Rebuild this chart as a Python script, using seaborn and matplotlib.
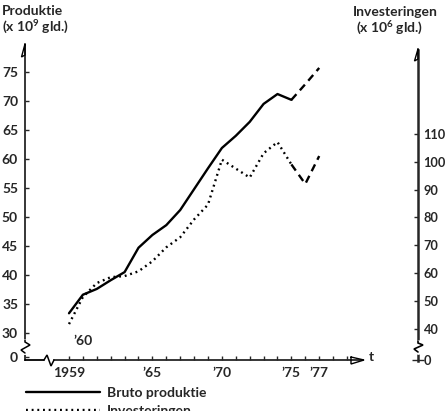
import numpy as np
import pandas as pd
import matplotlib
matplotlib.use("Agg")
import matplotlib.pyplot as plt
from matplotlib.lines import Line2D
import seaborn as sns

# ---- data ----
years = [1959, 1960, 1961, 1962, 1963, 1964, 1965, 1966, 1967, 1968,
         1969, 1970, 1971, 1972, 1973, 1974, 1975, 1976, 1977]
produktie = [33.4, 36.6, 37.6, 39.1, 40.5, 44.7, 46.9, 48.6, 51.2, 54.8,
             58.4, 61.9, 64.0, 66.4, 69.5, 71.2, 70.2, 72.9, 75.7]
investeringen = [41.8, 51.5, 56.5, 58.6, 59.0, 60.7, 64.3, 69.3, 72.9, 79.3,
                 84.6, 100.7, 97.5, 94.3, 103.0, 107.0, 99.0, 92.0, 102.0]
last_actual = 1975  # after this year the lines are dashed (estimates)

left_ticks = [30, 35, 40, 45, 50, 55, 60, 65, 70, 75]
right_ticks = [40, 50, 60, 70, 80, 90, 100, 110]
x_label_years = [1959, 1965, 1970, 1975, 1977]
x_labels = ["1959", "’65", "’70", "’75", "’77"]
left_title = ["Produktie", "(x 10$^9$ gld.)"]
right_title = ["Investeringen", "(x 10$^6$ gld.)"]
legend_labels = ["Bruto produktie", "Investeringen"]

df = pd.DataFrame({"jaar": years, "produktie": produktie,
                   "investeringen": investeringen})
act = df[df.jaar <= last_actual]
est = df[df.jaar >= last_actual]

# ---- figure ----
sns.set_style("white")
FONT = ["Lato", "DejaVu Sans"]
plt.rcParams["font.family"] = FONT
plt.rcParams["mathtext.fontset"] = "custom"
plt.rcParams["mathtext.rm"] = "Lato:bold"
plt.rcParams["mathtext.it"] = "Lato:bold"
plt.rcParams["mathtext.bf"] = "Lato:bold"
FS = 10
FW = "bold"

W, H = 445, 411
fig = plt.figure(figsize=(W / 100, H / 100), dpi=100)
fig.patch.set_facecolor("white")

def fx(x):
    return x / W

def fy(y):
    return 1 - y / H

L, R, T, B = 25, 418, 45, 360
ax = fig.add_axes([fx(L), fy(B), fx(R) - fx(L), fy(T) - fy(B)])
ax2 = ax.twinx()

# pixel -> data calibration
def yr_at(px):
    return 1959 + (px - 69) / 13.9

ax.set_xlim(yr_at(L), yr_at(R))
ax.set_ylim(30 - (B - 333) / 5.8, 30 + (333 - T) / 5.8)
ax2.set_ylim(40 - (B - 330) / 2.8, 40 + (330 - T) / 2.8)

# lines
sns.lineplot(data=act, x="jaar", y="produktie", ax=ax, color="black",
             lw=1.7, linestyle="-")
sns.lineplot(data=est, x="jaar", y="produktie", ax=ax, color="black",
             lw=1.7, linestyle=(0, (3.2, 2.2)))
sns.lineplot(data=act, x="jaar", y="investeringen", ax=ax2, color="black",
             lw=1.7, linestyle=(0, (0.8, 1.6)))
sns.lineplot(data=est, x="jaar", y="investeringen", ax=ax2, color="black",
             lw=1.7, linestyle=(0, (3.2, 2.2)))

for a in (ax, ax2):
    a.set_xlabel("")
    a.set_ylabel("")
    for s in a.spines.values():
        s.set_visible(False)
    a.patch.set_visible(False)

# left axis
ax.spines["left"].set_visible(True)
ax.spines["left"].set_linewidth(1.3)
zero_left = 30 - (357 - 333) / 5.8
ax.set_yticks([zero_left] + left_ticks)
ax.set_yticklabels(["0"] + [str(v) for v in left_ticks])
ax.tick_params(axis="y", direction="in", length=3, width=1.0, pad=5,
               labelsize=FS, left=True)

# bottom axis
ax.spines["bottom"].set_visible(True)
ax.spines["bottom"].set_linewidth(1.3)
ax.spines["bottom"].set_bounds(yr_at(54), yr_at(363))
ax.set_xticks(x_label_years)
ax.set_xticklabels(x_labels)
ax.set_xticks(list(range(1959, 1980)), minor=True)
ax.tick_params(axis="x", which="both", direction="in", length=3, width=1.0,
               pad=5, labelsize=FS, bottom=True)

# right axis
ax2.spines["right"].set_visible(True)
ax2.spines["right"].set_linewidth(1.8)
ax2.spines["right"].set_bounds(40 - (362 - 330) / 2.8, 40 + (330 - 50) / 2.8)
zero_right = 40 - (361 - 330) / 2.8
ax2.set_yticks([zero_right] + right_ticks)
ax2.set_yticklabels(["0"] + [str(v) for v in right_ticks])
ax2.tick_params(axis="y", direction="in", length=3, width=1.0, pad=4,
                labelsize=9.2, right=True)
ax2.yaxis.get_major_ticks()[0].tick2line.set_markersize(8)
ax2.yaxis.get_major_ticks()[0].tick2line.set_marker("_")

for lab in ax.get_xticklabels() + ax.get_yticklabels() + ax2.get_yticklabels():
    lab.set_fontweight(FW)

ax.text(1960, (B - 341) / (B - T), "’60", transform=ax.get_xaxis_transform(),
        ha="center", va="center", fontsize=FS, fontweight=FW)

# decorations: axis breaks and arrows (in pixel space of the figure)
def poly(xs, ys, lw=1.2, color="black", closed=False):
    xs = list(xs); ys = list(ys)
    if closed:
        xs.append(xs[0]); ys.append(ys[0])
    fig.add_artist(Line2D([fx(x) for x in xs], [fy(y) for y in ys],
                          transform=fig.transFigure, color=color, lw=lw,
                          solid_joinstyle="miter"))

# x-axis start and break
poly([L, 44], [B, B], lw=1.3)
poly([44, 47, 51, 54], [B, 355, 366, B], lw=1.1)
# x-axis arrow
poly([351, 364, 351], [357, B, 364], lw=1.0, closed=True)
fig.text(fx(369), fy(357), "t", ha="left", va="center", fontsize=FS,
         fontweight=FW)
# left axis break
poly([L, L], [341, 353], lw=3, color="white")
poly([L, 21, 30, 25, 25], [353, 350, 345, 342, 340], lw=1.1)
# left axis arrow
poly([L, 21.5, L], [T - 1, 57, 55], lw=1.0, closed=True)
# right axis break
poly([R, R], [342, 352], lw=3.5, color="white")
poly([R, 414, 423, R, R], [352, 349, 345, 343, 341], lw=1.2)
# right axis arrow
poly([R, 414.5, R], [49, 61, 59], lw=1.0, closed=True)

# titles
fig.text(fx(2), fy(11), left_title[0], ha="left", va="center",
         fontsize=FS, fontweight=FW)
fig.text(fx(2), fy(27), left_title[1], ha="left", va="center",
         fontsize=FS, fontweight=FW)
fig.text(fx(353), fy(12), right_title[0], ha="left", va="center",
         fontsize=FS, fontweight=FW)
fig.text(fx(356), fy(28), right_title[1], ha="left", va="center",
         fontsize=FS, fontweight=FW)

# legend
handles = [Line2D([], [], color="black", lw=1.7, linestyle="-"),
           Line2D([], [], color="black", lw=1.7, linestyle=(0, (0.8, 1.6)))]
leg = fig.legend(handles, legend_labels, loc="upper left",
                 bbox_to_anchor=(fx(26), fy(387)), frameon=False,
                 handlelength=5.3, handletextpad=0.5, labelspacing=0.45,
                 borderpad=0, borderaxespad=0,
                 prop={"family": FONT, "size": FS, "weight": FW})

fig.savefig("out.png", dpi=100, facecolor="white")
